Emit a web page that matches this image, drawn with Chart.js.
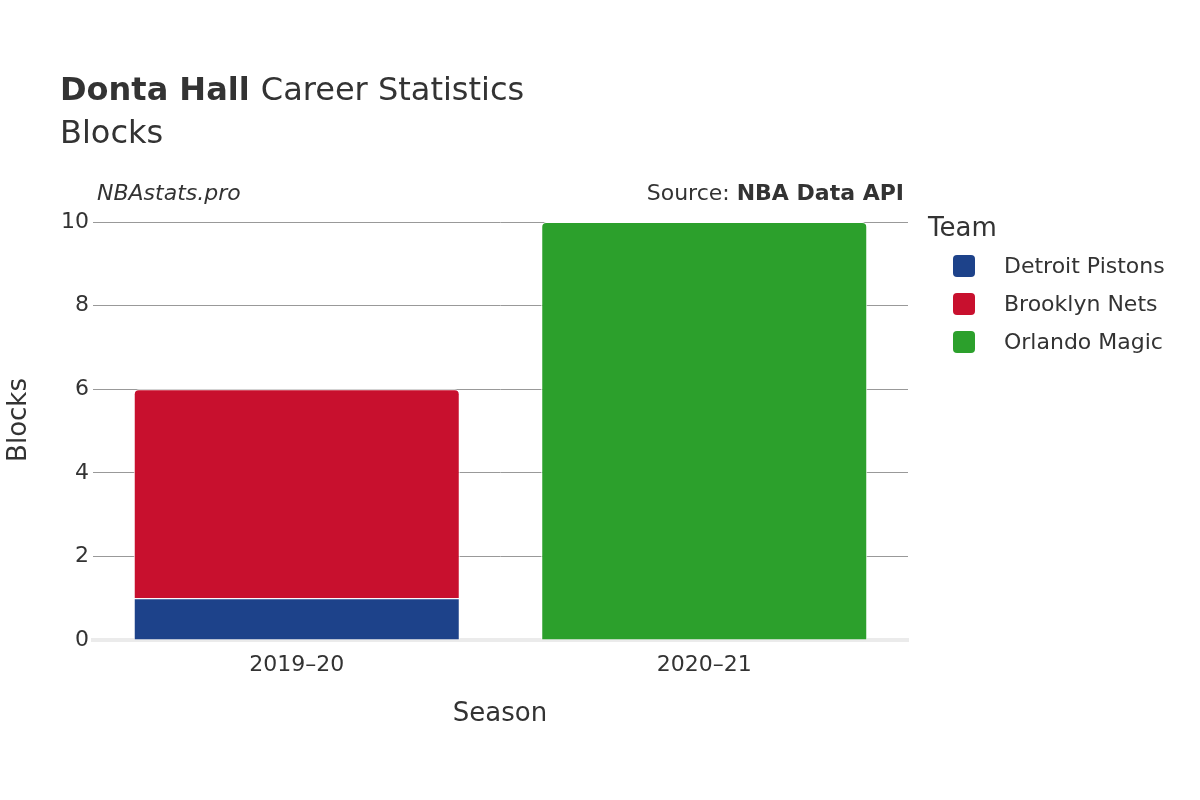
<!DOCTYPE html>
<html>
<head>
<meta charset="utf-8">
<script src="https://cdn.jsdelivr.net/npm/chart.js@4.4.0/dist/chart.umd.min.js"></script>
<style>
  body { margin: 0; background: #fff; }
  #wrap { width: 1200px; height: 800px; }
</style>
</head>
<body>
<div id="wrap"><canvas id="chart" width="1200" height="800"></canvas></div>
<script>
const seasons = ['2019–20', '2020–21'];
const teams = ['Detroit Pistons', 'Brooklyn Nets', 'Orlando Magic'];
const teamColors = ['#1D428A', '#C8102E', '#2CA02C'];
const detroitBlocks = [1, 0];
const brooklynBlocks = [5, 0];
const orlandoBlocks = [0, 10];
const yTicks = [0, 2, 4, 6, 8, 10];

const FONT = '"DejaVu Sans", sans-serif';
const TEXT = '#333';

// draws titles, source line, axis titles and the legend
const decorations = {
    id: 'decorations',
    afterDraw(chart) {
        const c = chart.ctx;
        c.save();
        c.fillStyle = TEXT;
        c.textBaseline = 'alphabetic';
        c.textAlign = 'left';
        c.font = 'bold 32px ' + FONT;
        c.fillText('Donta Hall', 60, 100);
        const w = c.measureText('Donta Hall ').width;
        c.font = '32px ' + FONT;
        c.fillText('Career Statistics', 60 + w, 100);
        c.fillText('Blocks', 60, 143);

        c.font = 'italic 22px ' + FONT;
        c.fillText('NBAstats.pro', 97, 200);

        c.textAlign = 'right';
        c.font = 'bold 22px ' + FONT;
        c.fillText('NBA Data API', 904, 200);
        const sw = c.measureText('NBA Data API').width;
        c.font = '22px ' + FONT;
        c.fillText('Source: ', 904 - sw, 200);

        c.textAlign = 'center';
        c.font = '26px ' + FONT;
        c.fillText('Season', 500, 721);
        c.save();
        c.translate(26, 420);
        c.rotate(-Math.PI / 2);
        c.fillText('Blocks', 0, 0);
        c.restore();

        c.textAlign = 'left';
        c.font = '26px ' + FONT;
        c.fillText('Team', 928, 236);
        c.font = '22px ' + FONT;
        teams.forEach((t, i) => {
            const y = 266 + i * 38;
            c.fillStyle = teamColors[i];
            c.beginPath();
            c.roundRect(953, y - 11, 22, 22, 4);
            c.fill();
            c.fillStyle = TEXT;
            c.textBaseline = 'middle';
            c.fillText(t, 1004, y + 1);
        });
        c.restore();
    }
};

const values = [detroitBlocks, brooklynBlocks, orlandoBlocks];
const radii = [0, { topLeft: 5, topRight: 5 }, { topLeft: 5, topRight: 5 }];

new Chart(document.getElementById('chart'), {
    type: 'bar',
    data: {
        labels: seasons,
        datasets: teams.map((t, i) => ({
            label: t,
            data: values[i],
            backgroundColor: teamColors[i],
            borderColor: '#ffffff',
            borderWidth: 1,
            borderSkipped: 'bottom',
            borderRadius: radii[i],
            barPercentage: 0.8,
            categoryPercentage: 1
        }))
    },
    options: {
        responsive: false,
        animation: false,
        layout: { padding: { top: 222, right: 292, bottom: 0, left: 0 } },
        plugins: { legend: { display: false }, tooltip: { enabled: false } },
        scales: {
            x: {
                stacked: true,
                grid: { display: false },
                border: { display: true, color: '#ebebeb', width: 4 },
                ticks: { color: TEXT, font: { size: 22, family: FONT }, padding: 4 },
                afterFit(s) { s.height = 160; }
            },
            y: {
                stacked: true,
                min: 0,
                max: 10,
                afterBuildTicks(s) { s.ticks = yTicks.map(v => ({ value: v })); },
                grid: { color: '#999', lineWidth: 1, drawTicks: false },
                border: { display: false },
                ticks: { color: TEXT, font: { size: 22, family: FONT }, padding: 4 },
                afterFit(s) { s.width = 93; }
            }
        }
    },
    plugins: [decorations]
});
</script>
</body>
</html>
